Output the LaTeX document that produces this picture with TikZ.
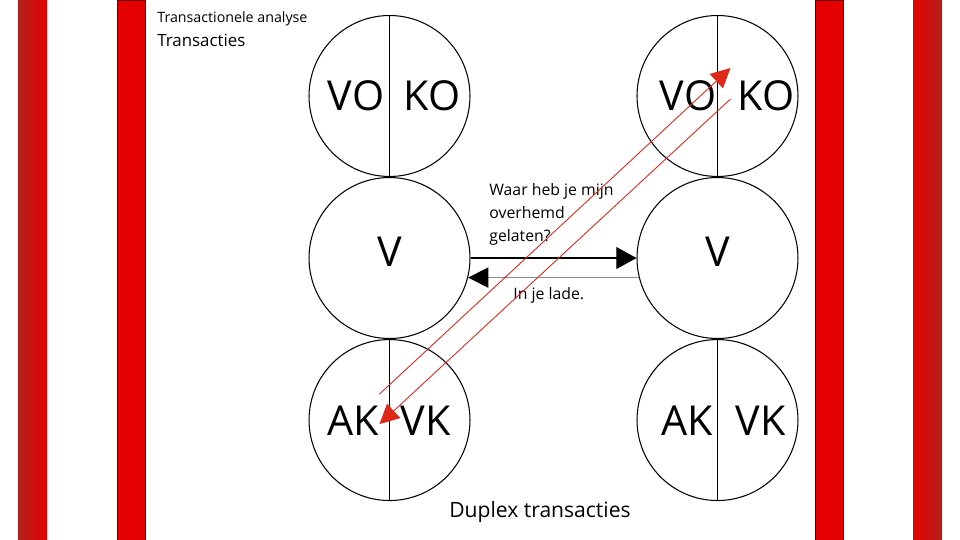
\documentclass[tikz,border=0pt]{standalone}
\usepackage{fontspec}
\setmainfont{Open Sans}
\usetikzlibrary{arrows.meta,positioning,calc}
\definecolor{barred}{RGB}{228,0,0}
\definecolor{bardark}{RGB}{178,34,28}
\definecolor{linered}{RGB}{222,40,24}

\begin{document}
\begin{tikzpicture}[
    x=0.02cm, y=-0.02cm,
    ego/.style={draw, circle, minimum size=3.22cm, inner sep=0pt, line width=0.6pt},
    state/.style={font=\fontsize{23.5}{28}\selectfont, inner sep=0pt},
    lbl/.style={font=\fontsize{9}{13}\selectfont, inner sep=0pt, align=left},
    wire/.style={line width=0.6pt},
    redwire/.style={draw=linered, line width=0.5pt, -{Triangle[length=11pt, width=11pt, fill=linered, color=linered]}},
  ]
  \useasboundingbox (0,0) rectangle (960,540);

  % ---------------- side bars
  \fill[left color=bardark, right color=barred] (18,0) rectangle (47,540);
  \filldraw[fill=barred, draw=black!60!red] (117,0) rectangle (145,540);
  \filldraw[fill=barred, draw=black!60!red] (815,0) rectangle (843,540);
  \fill[left color=barred, right color=bardark] (913,0) rectangle (942,540);

  % ---------------- titles
  \node[anchor=north west, inner sep=0pt, font=\fontsize{8.1}{10}\selectfont] (ta) at (157,11) {Transactionele analyse};
  \node[anchor=north west, inner sep=0pt, font=\fontsize{9.6}{12}\selectfont] (tt) at (157,34) {Transacties};

  % ---------------- left person
  \node[ego] (topL) at (389.5,96) {};
  \node[ego, below=0pt of topL] (midL) {};
  \node[ego, below=0pt of midL] (botL) {};
  \draw[wire] (topL.north) -- (topL.south);
  \draw[wire] (botL.north) -- (botL.south);
  \node[state, anchor=east] (voL) at ($(topL.center)+(-5,0)$) {VO};
  \node[state, anchor=west] (koL) at ($(topL.center)+(14,0)$) {KO};
  \node[state] (vL) at ($(midL.center)+(0,-6)$) {V};
  \node[state, anchor=east] (akL) at ($(botL.center)+(-10,1)$) {AK};
  \node[state, anchor=west] (vkL) at ($(botL.center)+(11,1)$) {VK};

  % ---------------- right person
  \node[ego, right=3.32cm of topL] (topR) {};
  \node[ego, below=0pt of topR] (midR) {};
  \node[ego, below=0pt of midR] (botR) {};
  \draw[wire] (topR.north) -- (topR.south);
  \draw[wire] (botR.north) -- (botR.south);
  \node[state, anchor=east] (voR) at ($(topR.center)+(-1,0)$) {VO};
  \node[state, anchor=west] (koR) at ($(topR.center)+(20,0)$) {KO};
  \node[state] (vR) at ($(midR.center)+(0,-6)$) {V};
  \node[state, anchor=east] (akR) at ($(botR.center)+(-4,1)$) {AK};
  \node[state, anchor=west] (vkR) at ($(botR.center)+(18,1)$) {VK};

  % ---------------- V to V
  \draw[wire, -{Triangle[length=11.5pt, width=12.5pt]}] (midL.east) -- (midR.west);
  \draw[draw=black!45, line width=0.5pt, -{Triangle[length=11.5pt, width=11.5pt, color=black]}] (midR.194) -- (midL.346);
  \node[lbl, anchor=north west] (ask) at (489,183) {Waar heb je mijn\\overhemd\\gelaten?};
  \node[lbl, anchor=north west] (ans) at (513,287) {In je lade.};

  % ---------------- hidden AK <-> VO
  \coordinate (a1) at ($(botL.center)+(-10,-26)$);
  \coordinate (b1) at ($(topR.center)+(13,-28)$);
  \coordinate (a2) at ($(topR.center)+(13,3)$);
  \coordinate (b2) at ($(botL.center)+(-10,4)$);
  \draw[redwire] (a1) -- (b1);
  \draw[redwire] (a2) -- (b2);

  \node[inner sep=0pt, font=\fontsize{12}{14}\selectfont] (cap) at (540,512) {Duplex transacties};
\end{tikzpicture}
\end{document}
